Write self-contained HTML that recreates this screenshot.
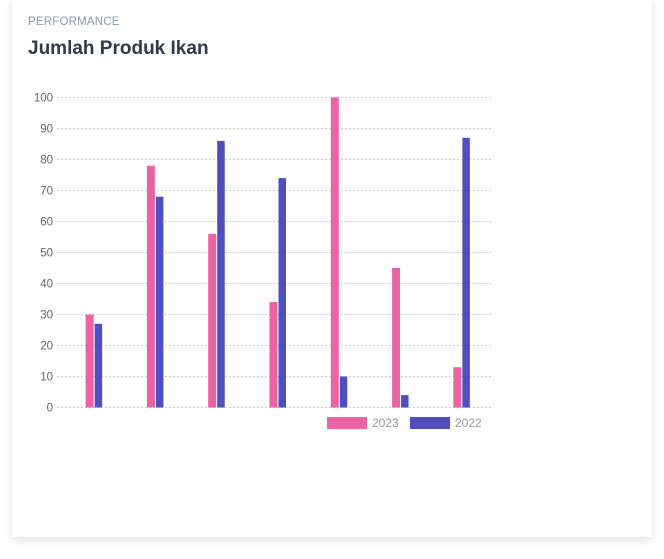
<!DOCTYPE html>
<html><head><meta charset="utf-8"><style>
body{margin:0;width:664px;height:559px;background:#fff;font-family:"Liberation Sans",sans-serif;overflow:hidden}
.card{position:absolute;left:12px;top:0;width:640px;height:537px;background:#fff;box-shadow:0 3px 10px rgba(0,0,0,0.12)}
.sub{position:absolute;left:16px;top:16px;font-size:11.5px;color:#8a9bb0;letter-spacing:0.2px}
.title{position:absolute;left:16px;top:38px;font-size:19px;font-weight:bold;color:#2d3b4e}
svg{position:absolute;left:0;top:0}
</style></head><body>
<div class="card">
<div class="sub">PERFORMANCE</div>
<div class="title">Jumlah Produk Ikan</div>
</div>
<svg id="chart" width="664" height="559"></svg>
<script>
const categories=["A","B","C","D","E","F","G"];
const series2023=[30,78,56,34,100,45,13];
const series2022=[27,68,86,74,10,4,87];
const yTicks=[0,10,20,30,40,50,60,70,80,90,100];
const NS="http://www.w3.org/2000/svg";
const svg=document.getElementById('chart');
const x0=63,x1=492,yBase=407.5,yTop=97.5;
const yS=v=>yBase-(v/100)*(yBase-yTop);
const bw=(x1-x0)/categories.length;
const xC=i=>x0+bw*(i+0.5);
function mk(t,a){const e=document.createElementNS(NS,t);for(const k in a)e.setAttribute(k,a[k]);svg.appendChild(e);return e;}
yTicks.forEach(v=>{
 const l=mk('line',{x1:57,x2:x1,y1:yS(v),y2:yS(v),stroke:'#ccc','stroke-dasharray':'2,2'});
 
 
 const t=mk('text',{x:53,y:yS(v)+4,'text-anchor':'end','font-size':11.5,fill:'#666','font-family':'Liberation Sans, sans-serif'});
 t.textContent=v;
 
 
});
categories.forEach((c,i)=>{
 const cx=xC(i);
 const a=mk('rect',{x:cx-8,y:yS(series2023[i]),width:8,height:yBase-yS(series2023[i]),fill:'#ea63a3'});
 
 
 const b=mk('rect',{x:cx+1,y:yS(series2022[i]),width:7.5,height:yBase-yS(series2022[i]),fill:'#4f4fc1'});
 
 
});
const leg=[["2023","#ea63a3",327],["2022","#4f4fc1",410]];
leg.forEach(([n,c,x])=>{
 const r=mk('rect',{x:x,y:417,width:40,height:12,fill:c});
 
 
 const t=mk('text',{x:x+45,y:427,'font-size':12,fill:'#999','font-family':'Liberation Sans, sans-serif'});
 t.textContent=n;
 
 
});
</script>
</body></html>
